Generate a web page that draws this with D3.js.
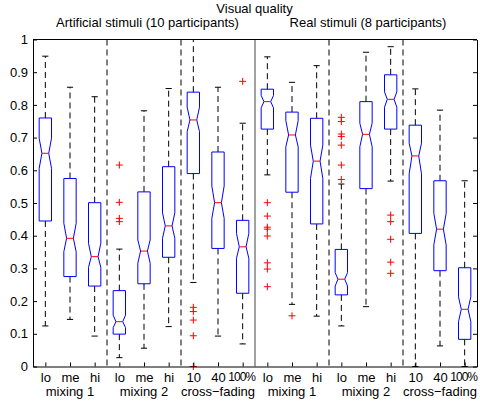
<!DOCTYPE html>
<meta charset="UTF-8">
<style>
  body { margin: 0; background: #fff; }
  svg text { font-family: "Liberation Sans", Arial, sans-serif; font-size: 13px; fill: #000; }
  .domain { stroke: #000; }
</style>
<body>
<div id="chart"></div>
<script src="https://d3js.org/d3.v7.min.js"></script>
<script>

// tick labels under each box, and the group labels under each triple
var labels = ["lo", "me", "hi", "lo", "me", "hi", "10", "40", "100%",
              "lo", "me", "hi", "lo", "me", "hi", "10", "40", "100%"];
var groups = ["mixing 1", "mixing 2", "cross\u2212fading",
              "mixing 1", "mixing 2", "cross\u2212fading"];

// box statistics (boxes 1-9 artificial, 10-18 real)
var whiskerHigh = [0.949, 0.854, 0.825, 0.359, 0.782, 0.850, 1.000, 0.854, 0.744,
                   0.947, 0.869, 0.920, 0.558, 0.961, 0.978, 0.849, 0.784, 0.568];
var q3 = [0.760, 0.575, 0.501, 0.232, 0.534, 0.611, 0.839, 0.656, 0.447,
          0.848, 0.778, 0.759, 0.358, 0.810, 0.892, 0.738, 0.568, 0.302];
var notchHigh = [0.698, 0.438, 0.377, 0.157, 0.387, 0.470, 0.793, 0.552, 0.407,
                 0.829, 0.752, 0.677, 0.287, 0.744, 0.840, 0.683, 0.468, 0.213];
var medians = [0.652, 0.392, 0.336, 0.137, 0.353, 0.430, 0.754, 0.501, 0.366,
               0.810, 0.708, 0.628, 0.267, 0.710, 0.817, 0.644, 0.420, 0.175];
var notchLow = [0.606, 0.351, 0.303, 0.119, 0.316, 0.392, 0.718, 0.453, 0.331,
                0.791, 0.672, 0.575, 0.246, 0.672, 0.793, 0.589, 0.372, 0.137];
var q1 = [0.445, 0.275, 0.246, 0.099, 0.253, 0.334, 0.590, 0.361, 0.224,
          0.726, 0.533, 0.436, 0.219, 0.544, 0.726, 0.407, 0.293, 0.083];
var whiskerLow = [0.124, 0.144, 0.093, 0.027, 0.056, 0.122, 0.257, 0.093, 0.069,
                  0.586, 0.190, 0.154, 0.124, 0.183, 0.567, 0.000, 0.063, 0.000];
var outliers = [[], [], [], [0.616, 0.502, 0.453, 0.443], [], [],
                [0.181, 0.168, 0.142, 0.094, 0.0], [], [0.872],
                [0.501, 0.460, 0.426, 0.420, 0.399, 0.317, 0.298, 0.244], [0.155], [],
                [0.762, 0.749, 0.711, 0.703, 0.677, 0.616, 0.572], [],
                [0.463, 0.443, 0.389, 0.319, 0.285], [], [], []];

var dashedSeparators = [3.5, 6.5, 12.5, 15.5];
var solidSeparators = [9.5];

var margin = {top: 39.5, right: 3, bottom: 38.5, left: 33},
    width = 480 - margin.left - margin.right,
    height = 405 - margin.top - margin.bottom;

var x = d3.scaleLinear().domain([0.5, 18.5]).range([0, width]);
var y = d3.scaleLinear().domain([0, 1]).range([height, 0]);

var svg = d3.select("#chart").append("svg")
    .attr("width", 480)
    .attr("height", 405)
  .append("g")
    .attr("transform", "translate(" + margin.left + "," + margin.top + ")");

var positions = d3.range(1, 19);
var halfW = (x(1.25) - x(1));   // box half width
var notchW = halfW * 0.55;
var capW = halfW * 0.5;

// separators
svg.selectAll(".sep-d").data(dashedSeparators).enter().append("line")
    .attr("x1", d => x(d)).attr("x2", d => x(d))
    .attr("y1", 0).attr("y2", height)
    .attr("stroke", "#000").attr("stroke-dasharray", "6,4");
svg.selectAll(".sep-s").data(solidSeparators).enter().append("line")
    .attr("x1", d => x(d)).attr("x2", d => x(d))
    .attr("y1", 0).attr("y2", height)
    .attr("stroke", "#444");

var boxes = svg.selectAll(".box").data(positions).enter().append("g");

// whiskers
boxes.append("line")
    .attr("x1", d => x(d)).attr("x2", d => x(d))
    .attr("y1", d => y(q3[d - 1])).attr("y2", d => y(whiskerHigh[d - 1]))
    .attr("stroke", "#000").attr("stroke-dasharray", "6,4");
boxes.append("line")
    .attr("x1", d => x(d)).attr("x2", d => x(d))
    .attr("y1", d => y(q1[d - 1])).attr("y2", d => y(whiskerLow[d - 1]))
    .attr("stroke", "#000").attr("stroke-dasharray", "6,4");
boxes.append("line")
    .attr("x1", d => x(d) - capW).attr("x2", d => x(d) + capW)
    .attr("y1", d => y(whiskerHigh[d - 1])).attr("y2", d => y(whiskerHigh[d - 1]))
    .attr("stroke", "#000");
boxes.append("line")
    .attr("x1", d => x(d) - capW).attr("x2", d => x(d) + capW)
    .attr("y1", d => y(whiskerLow[d - 1])).attr("y2", d => y(whiskerLow[d - 1]))
    .attr("stroke", "#000");

// notched box
boxes.append("path")
    .attr("fill", "none")
    .attr("stroke", "#00f")
    .attr("d", function(d) {
        var i = d - 1, c = x(d), h = halfW, n = notchW;
        return "M" + (c - h) + "," + y(q1[i]) +
               "L" + (c - h) + "," + y(notchLow[i]) +
               "L" + (c - n) + "," + y(medians[i]) +
               "L" + (c - h) + "," + y(notchHigh[i]) +
               "L" + (c - h) + "," + y(q3[i]) +
               "L" + (c + h) + "," + y(q3[i]) +
               "L" + (c + h) + "," + y(notchHigh[i]) +
               "L" + (c + n) + "," + y(medians[i]) +
               "L" + (c + h) + "," + y(notchLow[i]) +
               "L" + (c + h) + "," + y(q1[i]) + "Z";
    });

// median
boxes.append("line")
    .attr("x1", d => x(d) - notchW).attr("x2", d => x(d) + notchW)
    .attr("y1", d => y(medians[d - 1])).attr("y2", d => y(medians[d - 1]))
    .attr("stroke", "#f00");

// outliers
boxes.selectAll(".out")
    .data(d => outliers[d - 1].map(v => ({p: d, v: v})))
    .enter().append("path")
    .attr("stroke", "#f00")
    .attr("fill", "none")
    .attr("d", function(o) {
        var cx = x(o.p), cy = y(o.v);
        return "M" + (cx - 3.5) + "," + cy + "L" + (cx + 3.5) + "," + cy +
               "M" + cx + "," + (cy - 3.5) + "L" + cx + "," + (cy + 3.5);
    });

// axes
svg.append("g")
    .call(d3.axisLeft(y).tickValues(d3.range(0, 11).map(d => d / 10))
        .tickFormat(d => String(+d.toFixed(1))).tickSizeInner(-4).tickSizeOuter(0).tickPadding(5));
svg.append("g")
    .attr("transform", "translate(" + width + ",0)")
    .call(d3.axisRight(y).tickValues(d3.range(0, 11).map(d => d / 10))
        .tickFormat("").tickSizeInner(-4).tickSizeOuter(0));
var xAxis = svg.append("g")
    .attr("transform", "translate(0," + height + ")")
    .call(d3.axisBottom(x).tickValues(positions)
        .tickFormat(d => labels[d - 1]).tickSizeInner(-4).tickSizeOuter(0).tickPadding(6));
// top border
svg.append("line")
    .attr("x1", 0).attr("x2", width).attr("y1", 0).attr("y2", 0)
    .attr("stroke", "#000");
svg.selectAll(".tick text").attr("font-size", null).attr("font-family", null);
// the "100%" labels sit tightly against the next label in the original
xAxis.selectAll(".tick text").filter(d => labels[d - 1] === "100%")
    .style("font-size", "12px").style("letter-spacing", "-1px")
    .attr("dx", -1.5);

// group labels
svg.selectAll(".grp").data(groups).enter().append("text")
    .attr("x", (d, i) => x(2 + i * 3))
    .attr("y", height + 29.5)
    .attr("text-anchor", "middle")
    .text(d => d);

// titles
svg.append("text")
    .attr("x", 254.5 - margin.left).attr("y", 13 - margin.top)
    .attr("text-anchor", "middle").text("Visual quality");
svg.append("text")
    .attr("x", 147.5 - margin.left).attr("y", 27 - margin.top)
    .attr("text-anchor", "middle").text("Artificial stimuli (10 participants)");
svg.append("text")
    .attr("x", 368 - margin.left).attr("y", 27 - margin.top)
    .attr("text-anchor", "middle").text("Real stimuli (8 participants)");

</script>
</body>
